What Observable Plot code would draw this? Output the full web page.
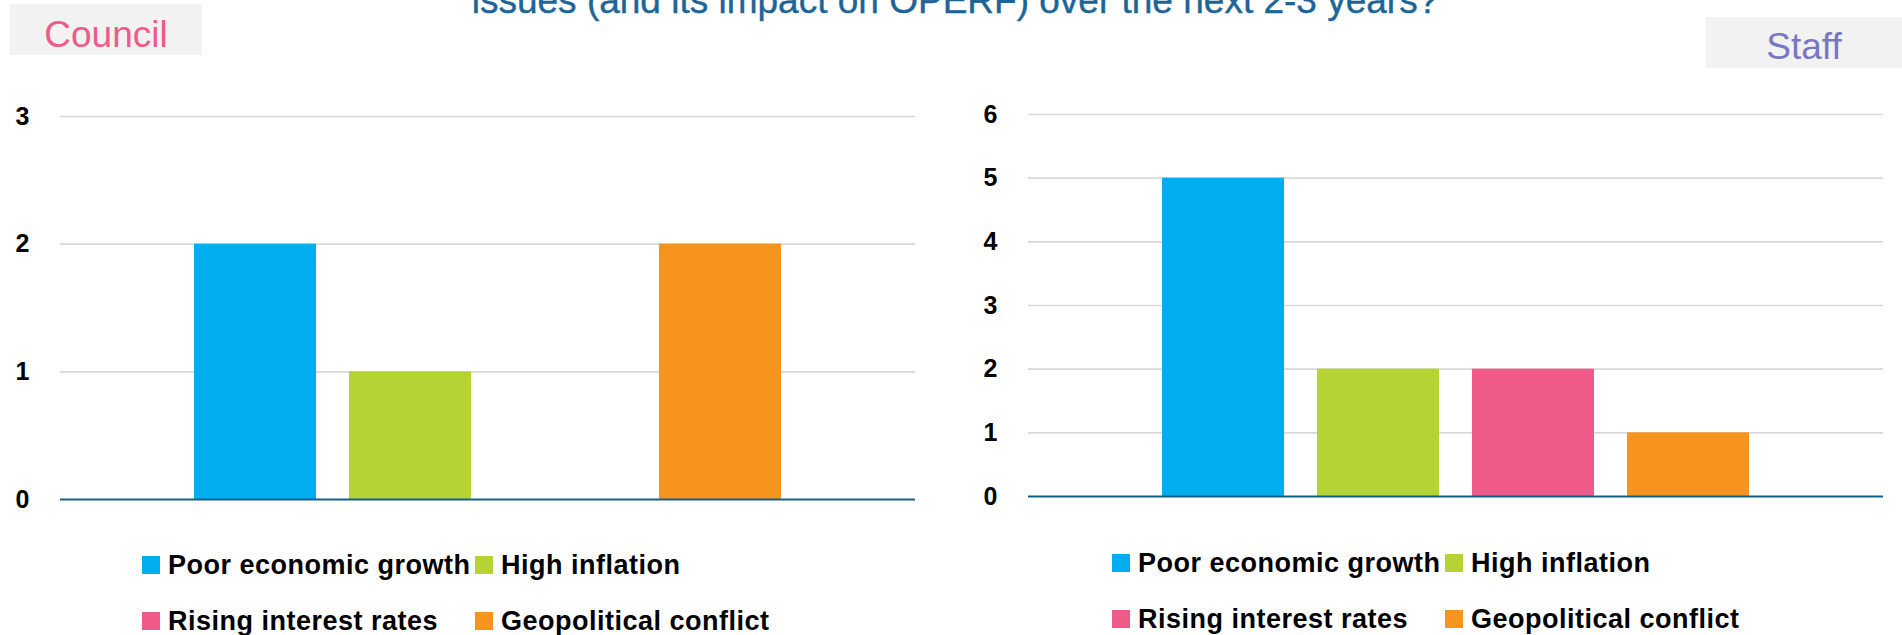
<!DOCTYPE html>
<html>
<head>
<meta charset="utf-8">
<script src="https://cdn.jsdelivr.net/npm/d3@7"></script>
<script src="https://cdn.jsdelivr.net/npm/@observablehq/plot@0.6"></script>
<style>
  html, body { margin: 0; padding: 0; background: #fff; }
  body { width: 1902px; height: 635px; position: relative; overflow: hidden; font-family: "Liberation Sans", Arial, sans-serif; }
  .abs { position: absolute; }
  .title { color: #1d6596; font-size: 37px; line-height: 37px; white-space: nowrap; -webkit-text-stroke: 0.4px #1d6596; }
  .tag { background: #f2f2f2; }
  .tag span { position: absolute; left: 0; right: 0; text-align: center; font-size: 37px; line-height: 37px; white-space: nowrap; }
  .leg { display: flex; align-items: center; height: 18px; white-space: nowrap; }
  .leg i { display: inline-block; width: 18px; height: 18px; margin-right: 8px; }
  .leg b { font-size: 27px; line-height: 27px; color: #000; font-weight: 700; letter-spacing: 0.5px; }
</style>
</head>
<body>
<div id="root"></div>
<script>
// ---- data ----
const categories = ["Poor economic growth", "High inflation", "Rising interest rates", "Geopolitical conflict"];
const colors = ["#00aeef", "#b5d334", "#f05a88", "#f7941e"];
const councilValues = [2, 1, 0, 2];
const staffValues = [5, 2, 2, 1];
const councilTicks = [0, 1, 2, 3];
const staffTicks = [0, 1, 2, 3, 4, 5, 6];
const titleText = "issues (and its impact on OPERF) over the next 2-3 years?";
const panelLabels = ["Council", "Staff"];

const root = document.getElementById("root");

function chart(values, ticks, marginTop, marginBottom, width, marginRight) {
  const data = categories.map((c, i) => ({cat: c, value: values[i]}));
  return Plot.plot({
    width, height: 520,
    marginLeft: 60, marginRight, marginTop, marginBottom,
    style: {fontFamily: "Liberation Sans, Arial, sans-serif", background: "transparent", overflow: "visible"},
    x: {type: "band", domain: categories, paddingInner: 0.216, paddingOuter: 0.866, axis: null},
    y: {domain: [0, d3.max(ticks)], axis: null},
    color: {domain: categories, range: colors},
    marks: [
      Plot.gridY(ticks.filter(t => t > 0), {stroke: "#d9d9d9", strokeOpacity: 1, strokeWidth: 1.6}),
      Plot.barY(data, {x: "cat", y: "value", fill: "cat"}),
      Plot.ruleY([0], {stroke: "#13608f", strokeWidth: 2.2}),
      Plot.axisY(ticks, {tickSize: 0, tickPadding: 31, fontSize: 25, fontWeight: "bold", fill: "#000", textAnchor: "end", tickFormat: d => String(d), label: null})
    ]
  });
}

function place(el, left, top) {
  el.style.position = "absolute";
  el.style.left = left + "px";
  el.style.top = top + "px";
  root.appendChild(el);
}

const c1 = chart(councilValues, councilTicks, 116, 21, 951, 36);
place(c1, 0, 0);
const c2 = chart(staffValues, staffTicks, 114, 24, 934, 19);
place(c2, 968, 0);

// title (second line, cut at top)
const t = document.createElement("div");
t.className = "abs title";
t.textContent = titleText;
t.style.left = "955px";
t.style.top = "-18px";
t.style.transform = "translateX(-50%)";
root.appendChild(t);

// panel tags
function tag(text, left, top, w, h, color, textTop) {
  const d = document.createElement("div");
  d.className = "abs tag";
  d.style.left = left + "px"; d.style.top = top + "px";
  d.style.width = w + "px"; d.style.height = h + "px";
  const s = document.createElement("span");
  s.textContent = text; s.style.color = color; s.style.top = textTop + "px";
  d.appendChild(s);
  root.appendChild(d);
}
tag(panelLabels[0], 10, 4, 192, 51, "#f05a88", 11.5);
tag(panelLabels[1], 1706, 17, 196, 51, "#7878c2", 10.5);

// legends
function legend(offX, offY) {
  const colX = [142, 475];
  const rowY = [556, 612];
  categories.forEach((c, i) => {
    const d = document.createElement("div");
    d.className = "abs leg";
    d.style.left = (offX + colX[i % 2]) + "px";
    d.style.top = (offY + rowY[Math.floor(i / 2)]) + "px";
    const sw = document.createElement("i");
    sw.style.background = colors[i];
    const b = document.createElement("b");
    b.textContent = c;
    d.appendChild(sw); d.appendChild(b);
    root.appendChild(d);
  });
}
legend(0, 0);
legend(970, -2);
</script>
</body>
</html>
